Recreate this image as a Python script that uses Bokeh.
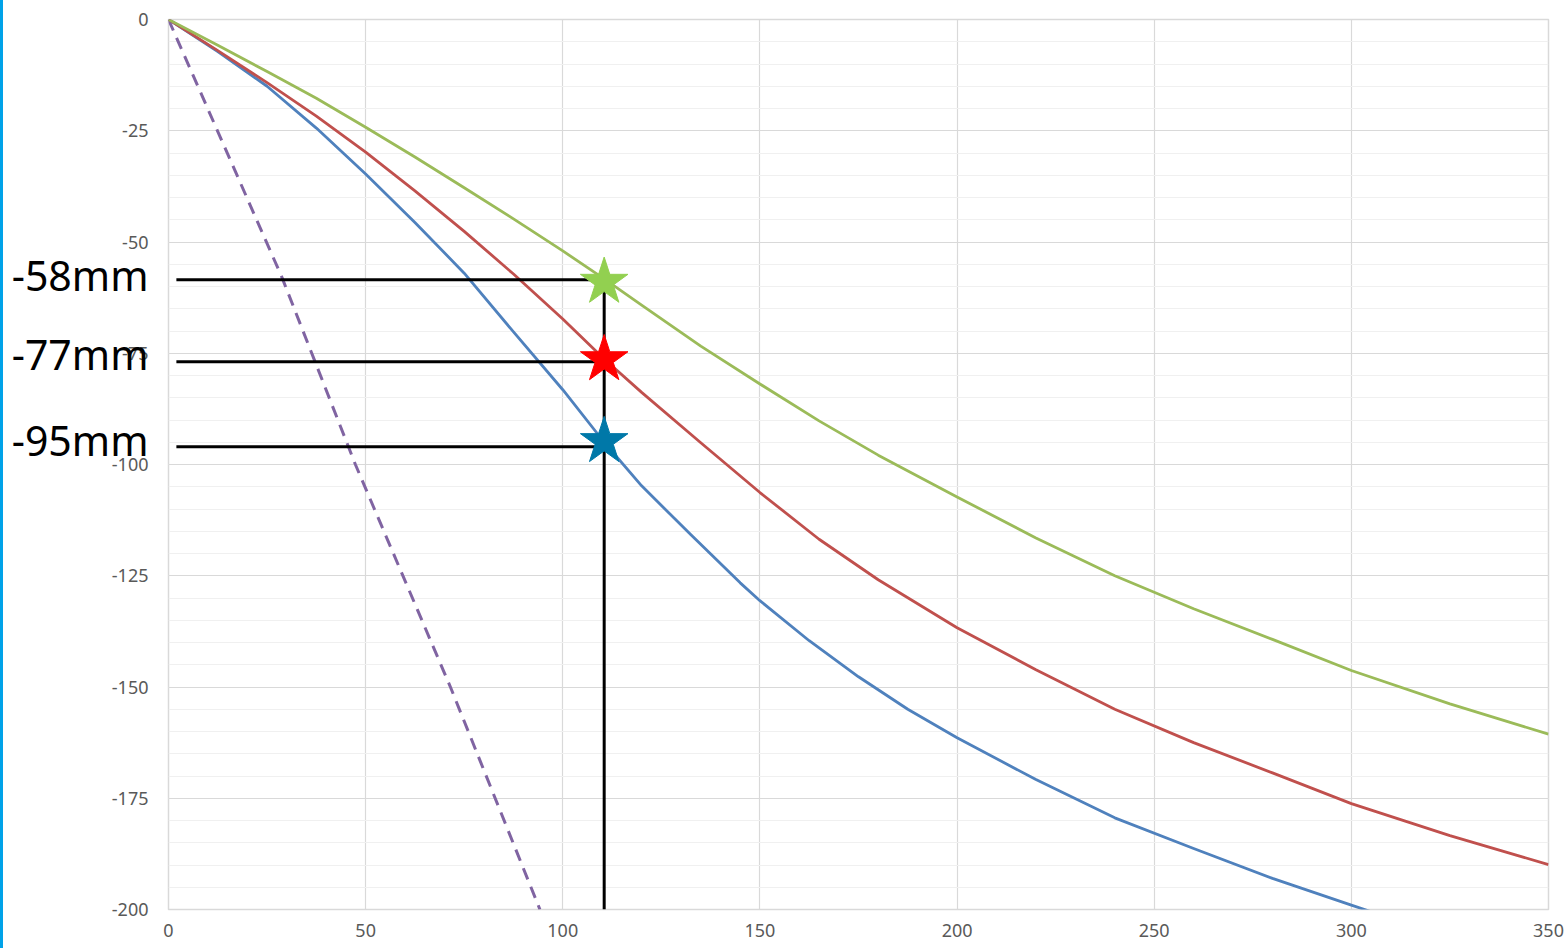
from bokeh.plotting import figure
from bokeh.models import SingleIntervalTicker, FixedTicker, LinearAxis, Range1d, Div
from bokeh.layouts import row
from bokeh.embed import file_html
from bokeh.resources import INLINE

# ---- data ----
blue_x = [0, 12.5, 25, 37.5, 50, 62.5, 75, 87.5, 100, 110.5, 120, 132.5, 145, 150, 162.5, 175, 187.5, 200, 220, 240, 260, 280, 300, 310]
blue_y = [0, -7.2, -15.0, -24.4, -34.7, -45.6, -57.0, -70.2, -83.2, -95.0, -104.8, -115.8, -126.6, -130.6, -139.6, -147.7, -155.0, -161.4, -170.8, -179.4, -186.3, -193.0, -199.0, -202.0]

red_x = [0, 12.5, 25, 37.5, 50, 62.5, 75, 87.5, 100, 110.5, 120, 135, 150, 165, 180, 200, 220, 240, 260, 280, 300, 325, 350]
red_y = [0, -7.0, -14.2, -21.7, -29.8, -38.5, -47.6, -57.2, -67.3, -76.3, -83.8, -95.1, -106.3, -116.8, -125.9, -136.7, -146.1, -155.0, -162.5, -169.3, -176.2, -183.4, -189.9]

green_x = [0, 12.5, 25, 37.5, 50, 62.5, 75, 87.5, 100, 110.5, 120, 135, 150, 165, 180, 200, 220, 240, 260, 280, 300, 325, 350]
green_y = [0, -5.8, -11.7, -17.7, -24.2, -30.9, -37.8, -44.8, -52.0, -58.3, -64.2, -73.4, -81.9, -90.2, -97.9, -107.3, -116.5, -125.0, -132.4, -139.3, -146.3, -153.8, -160.6]

purple_x = [0, 28.8, 47.4, 71.5, 94.2]
purple_y = [0, -58, -100, -150, -200]

mark_x = 110.5
hline_start = 2.0
hline_y = [-58.5, -76.9, -96.0]
star_y = [-59.0, -76.4, -94.8]
star_colors = ["#92D050", "#FF0000", "#0078A8"]
label_texts = ["-58mm", "-77mm", "-95mm"]
label_y = [-57.4, -75.2, -94.5]

x_ticks = [0, 50, 100, 150, 200, 250, 300, 350]
y_ticks = [0, -25, -50, -75, -100, -125, -150, -175, -200]

p = figure(width=1564, height=948,
           x_range=Range1d(0, 350), y_range=Range1d(-200, 0),
           output_backend="svg", toolbar_location=None,
           min_border_left=165, min_border_top=19, min_border_right=19, min_border_bottom=39)

p.background_fill_color = "white"
p.border_fill_color = "white"
p.outline_line_color = "#D9D9D9"
p.outline_line_width = 1.5

p.xaxis.ticker = FixedTicker(ticks=x_ticks)
p.yaxis.ticker = SingleIntervalTicker(interval=25, num_minor_ticks=5)
p.yaxis.major_label_overrides = {t: str(t) for t in y_ticks}
p.xaxis.major_label_overrides = {t: str(t) for t in x_ticks}

for ax in (p.xaxis, p.yaxis):
    ax.axis_line_color = None
    ax.major_tick_line_color = None
    ax.minor_tick_line_color = None
    ax.major_tick_out = 0
    ax.major_tick_in = 0
    ax.minor_tick_out = 0
    ax.minor_tick_in = 0
    ax.major_label_text_color = "#595959"
    ax.major_label_text_font = "Noto Sans"
    ax.major_label_text_font_size = "18px"
p.yaxis.major_label_standoff = 20
p.xaxis.major_label_standoff = 14

p.xgrid.ticker = FixedTicker(ticks=x_ticks)
p.xgrid.grid_line_color = "#D9D9D9"
p.xgrid.grid_line_width = 1.2
p.ygrid.grid_line_color = "#D9D9D9"
p.ygrid.grid_line_width = 1.2
p.ygrid.minor_grid_line_color = "#F0F0F0"
p.ygrid.minor_grid_line_width = 1.2

# big value labels as an extra left axis drawn over the tick labels
big_axis = LinearAxis(ticker=FixedTicker(ticks=label_y),
                      major_label_overrides={v: t for v, t in zip(label_y, label_texts)})
big_axis.axis_line_color = None
big_axis.major_tick_line_color = None
big_axis.minor_tick_line_color = None
big_axis.major_tick_out = 0
big_axis.major_tick_in = 0
big_axis.minor_tick_out = 0
big_axis.minor_tick_in = 0
big_axis.major_label_text_color = "black"
big_axis.major_label_text_font = "Noto Sans"
big_axis.major_label_text_font_size = "41px"
big_axis.major_label_standoff = -40
p.add_layout(big_axis, "left")

# curves
p.line(purple_x, purple_y, line_color="#8064A2", line_width=3, line_dash="12 8")
p.line(blue_x, blue_y, line_color="#4F81BD", line_width=2.8, line_join="round")
p.line(red_x, red_y, line_color="#C0504D", line_width=2.8, line_join="round")
p.line(green_x, green_y, line_color="#9BBB59", line_width=2.8, line_join="round")

# black guide lines
p.segment(x0=[hline_start] * 3, y0=hline_y, x1=[mark_x] * 3, y1=hline_y,
          line_color="black", line_width=3)
p.segment(x0=[mark_x], y0=[hline_y[0]], x1=[mark_x], y1=[-200],
          line_color="black", line_width=3)

# stars
p.scatter([mark_x] * 3, star_y, marker="star", size=50,
          fill_color=star_colors, line_color=star_colors)

bar = Div(text="", width=3, height=948, margin=0,
          styles={"background-color": "#00A2E8"})
layout = row(bar, p)

open("out.html", "w").write(file_html(layout, INLINE))
